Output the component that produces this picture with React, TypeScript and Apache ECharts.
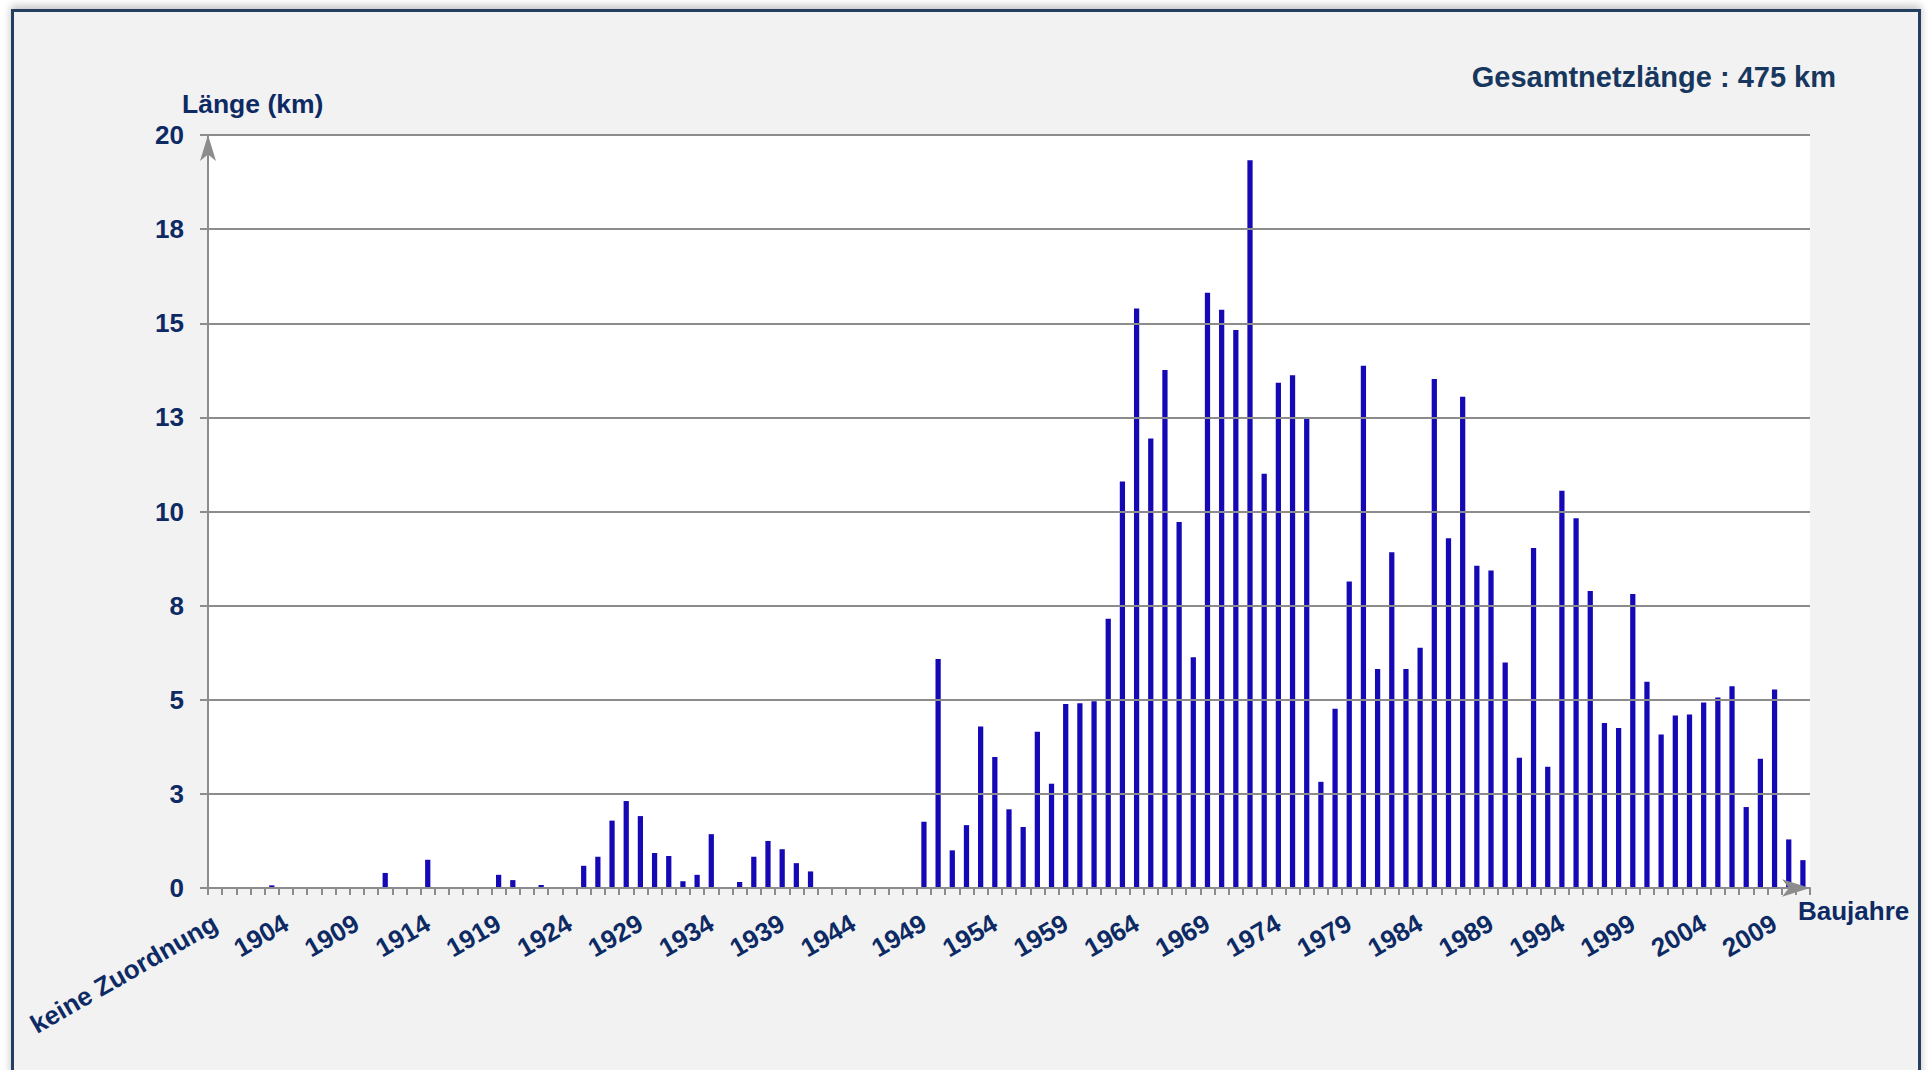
import React, { useEffect, useRef } from "react";
import * as echarts from "echarts";

// ---- data ----
const noAssignmentLabel = "keine Zuordnung";
const firstYear = 1900;
const lastYear = 2011;
const yearLabels: string[] = Array.from({ length: lastYear - firstYear + 1 }, (_, i) => String(firstYear + i));
const categories: string[] = [noAssignmentLabel, ...yearLabels];

// value for "keine Zuordnung"
const valueNoAssignment: number[] = [0];
// 1900 - 1924
const values1900to1924: number[] = [
  0, 0, 0, 0.07, 0, 0, 0, 0, 0, 0,
  0, 0.4, 0, 0, 0.75, 0, 0, 0, 0, 0.35,
  0.21, 0, 0.08, 0, 0,
];
// 1925 - 1948
const values1925to1948: number[] = [
  0.59, 0.83, 1.79, 2.31, 1.91, 0.93, 0.85, 0.18, 0.35, 1.43,
  0, 0.16, 0.83, 1.25, 1.03, 0.66, 0.44, 0, 0, 0,
  0, 0, 0, 0,
];
// 1949 - 1970
const values1949to1970: number[] = [
  1.76, 6.08, 1.0, 1.67, 4.29, 3.48, 2.09, 1.62, 4.15, 2.77,
  4.89, 4.91, 4.96, 7.15, 10.8, 15.39, 11.94, 13.76, 9.72, 6.13,
  15.81, 15.36,
];
// 1971 - 1991
const values1971to1991: number[] = [
  14.82, 19.33, 11.0, 13.42, 13.62, 12.46, 2.82, 4.76, 8.14, 13.87,
  5.82, 8.92, 5.82, 6.38, 13.52, 9.29, 13.05, 8.56, 8.43, 5.99,
  3.46,
];
// 1992 - 2011
const values1992to2011: number[] = [
  9.03, 3.22, 10.55, 9.82, 7.89, 4.38, 4.25, 7.81, 5.48, 4.08,
  4.58, 4.61, 4.93, 5.06, 5.36, 2.15, 3.43, 5.27, 1.29, 0.74,
];
const lengthValues: number[] = [
  ...valueNoAssignment,
  ...values1900to1924,
  ...values1925to1948,
  ...values1949to1970,
  ...values1971to1991,
  ...values1992to2011,
];

const yMin = 0;
const yMax = 20;
const yStep = 2.5;

const titleText = "Gesamtnetzlänge : 475 km";
const yAxisName = "Länge (km)";
const xAxisName = "Baujahre";

const FONT = '"Liberation Sans", Arial, sans-serif';
const TEXT_COLOR = "#0d2a64";
const TITLE_COLOR = "#17375e";
const AXIS_GRAY = "#8c8c8c";
const BAR_COLOR = "#1508b5";

export default function App() {
  const ref = useRef<HTMLDivElement>(null);

  useEffect(() => {
    if (!ref.current) return;
    const chart = echarts.init(ref.current, undefined, { renderer: "svg" });
    chart.setOption({
      animation: false,
      backgroundColor: "transparent",
      textStyle: { fontFamily: FONT },
      grid: {
        left: 208,
        top: 135,
        right: 118,
        bottom: 182,
        show: true,
        backgroundColor: "#ffffff",
        borderWidth: 0,
      },
      graphic: [
        {
          type: "text",
          x: 1836,
          y: 77,
          style: {
            text: titleText,
            fill: TITLE_COLOR,
            fontSize: 29,
            fontWeight: "bold",
            fontFamily: FONT,
            align: "right",
            verticalAlign: "middle",
          },
        },
        {
          type: "text",
          x: 182,
          y: 104,
          style: {
            text: yAxisName,
            fill: TEXT_COLOR,
            fontSize: 26.5,
            fontWeight: "bold",
            fontFamily: FONT,
            align: "left",
            verticalAlign: "middle",
          },
        },
        {
          type: "text",
          x: 1798,
          y: 911,
          style: {
            text: xAxisName,
            fill: TEXT_COLOR,
            fontSize: 26,
            fontWeight: "bold",
            fontFamily: FONT,
            align: "left",
            verticalAlign: "middle",
          },
        },
      ],
      xAxis: {
        type: "category",
        data: categories,
        boundaryGap: true,
        z: 3,
        axisLine: {
          show: true,
          symbol: ["none", "arrow"],
          symbolSize: [13, 28],
          symbolOffset: [0, 0],
          lineStyle: { color: AXIS_GRAY, width: 2 },
        },
        axisTick: {
          show: true,
          interval: 0,
          length: 7,
          lineStyle: { color: AXIS_GRAY, width: 2 },
        },
        axisLabel: {
          interval: 4,
          rotate: 30,
          margin: 33,
          color: TEXT_COLOR,
          fontSize: 26,
          fontWeight: "bold",
          fontFamily: FONT,
        },
        splitLine: { show: false },
      },
      yAxis: {
        type: "value",
        min: yMin,
        max: yMax,
        interval: yStep,
        z: 3,
        axisLine: {
          show: true,
          symbol: ["none", "arrow"],
          symbolSize: [12, 26],
          symbolOffset: [0, 0],
          lineStyle: { color: AXIS_GRAY, width: 2 },
        },
        axisTick: {
          show: true,
          length: 8,
          lineStyle: { color: AXIS_GRAY, width: 2 },
        },
        axisLabel: {
          margin: 24,
          color: TEXT_COLOR,
          fontSize: 26,
          fontWeight: "bold",
          fontFamily: FONT,
          formatter: (v: number) => String(Math.round(v)),
        },
        splitLine: {
          show: true,
          lineStyle: { color: AXIS_GRAY, width: 2 },
        },
      },
      series: [
        {
          type: "bar",
          name: yAxisName,
          data: lengthValues,
          barWidth: "37%",
          itemStyle: { color: BAR_COLOR },
        },
      ],
    });
    return () => chart.dispose();
  }, []);

  return (
    <div
      style={{
        position: "fixed",
        left: 0,
        top: 0,
        width: 1928,
        height: 1070,
        background: "#ffffff",
        overflow: "hidden",
      }}
    >
      <div
        style={{
          position: "absolute",
          left: 11,
          top: 9,
          width: 1904,
          height: 1100,
          border: "3px solid #243f60",
          background: "#f2f2f2",
          boxShadow: "0 -3px 8px rgba(0,0,0,0.25)",
        }}
      />
      <div
        ref={ref}
        style={{ position: "absolute", left: 0, top: 0, width: 1928, height: 1070 }}
      />
    </div>
  );
}
